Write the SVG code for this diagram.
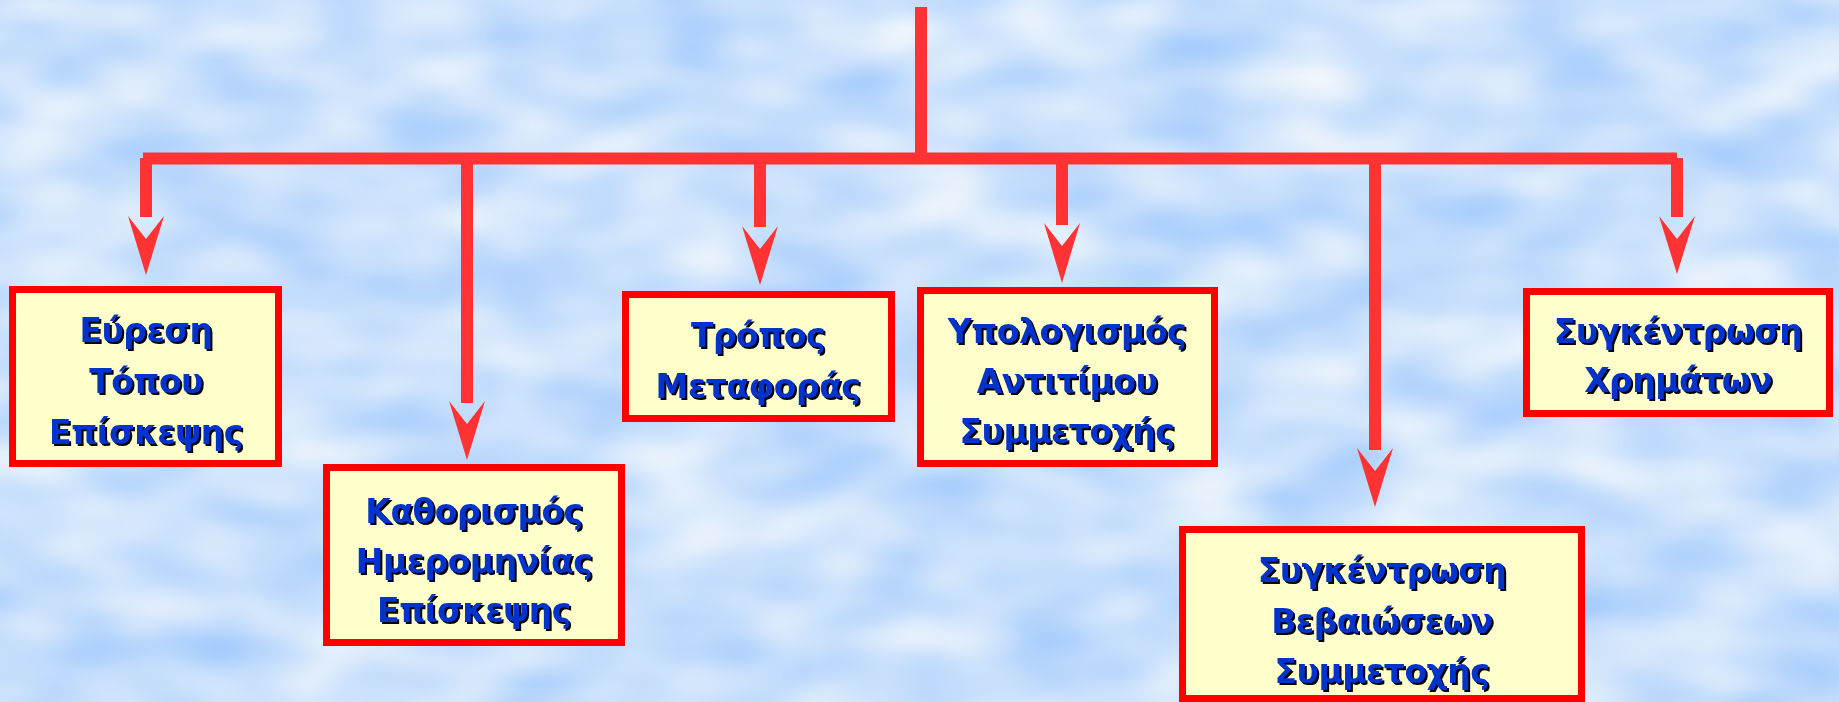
<svg xmlns="http://www.w3.org/2000/svg" width="1839" height="702" viewBox="0 0 1839 702">
<style>
.box{fill:#FFFFCC;stroke:#FF0000;stroke-width:7}
.lbl{font-family:"DejaVu Sans","Liberation Sans",sans-serif;font-weight:bold;font-size:33px;letter-spacing:-0.5px;fill:#0033CC;text-anchor:middle;filter:url(#sh)}
.ln{stroke:#FF3333;stroke-width:12;fill:none}
.ah{fill:#FF3333}
</style>
<defs>
<filter id="clouds" x="0" y="0" width="100%" height="100%" color-interpolation-filters="sRGB">
<feTurbulence type="fractalNoise" baseFrequency="0.008 0.016" numOctaves="2" seed="7" result="n"/>
<feColorMatrix in="n" type="matrix" values="0.42 0 0 0 0.58  0.24 0 0 0 0.76  0 0 0 0 0.99  0 0 0 0 1"/>
</filter>
<filter id="sh" x="-5%" y="-20%" width="110%" height="140%" color-interpolation-filters="sRGB">
<feDropShadow dx="2" dy="2" stdDeviation="0.5" flood-color="#000" flood-opacity="1"/>
</filter>
</defs>
<rect width="1839" height="702" fill="#C8E0FC"/>
<rect width="1839" height="702" filter="url(#clouds)"/>
<g id="connectors">
<line class="ln" x1="921" y1="7" x2="921" y2="158"/>
<line class="ln" x1="143" y1="158.5" x2="1677" y2="158.5" stroke-width="11"/>
<line class="ln" x1="146" y1="158" x2="146" y2="217"/>
<line class="ln" x1="467" y1="158" x2="467" y2="403"/>
<line class="ln" x1="760" y1="158" x2="760" y2="227"/>
<line class="ln" x1="1062" y1="158" x2="1062" y2="225"/>
<line class="ln" x1="1375" y1="158" x2="1375" y2="450"/>
<line class="ln" x1="1677" y1="158" x2="1677" y2="217"/>
<path class="ah" d="M128,216 L146,239 L164,216 L146,275 Z"/>
<path class="ah" d="M449,401 L467,424 L485,401 L467,460 Z"/>
<path class="ah" d="M742,226 L760,249 L778,226 L760,285 Z"/>
<path class="ah" d="M1044,223 L1062,246 L1080,223 L1062,283 Z"/>
<path class="ah" d="M1357,448 L1375,471 L1393,448 L1375,507 Z"/>
<path class="ah" d="M1659,216 L1677,239 L1695,216 L1677,274 Z"/>
</g>
<g id="node1">
<rect class="box" x="12.5" y="289.5" width="266" height="174"/>
<text class="lbl" x="146" y="342">Εύρεση</text>
<text class="lbl" x="146" y="393">Τόπου</text>
<text class="lbl" x="146" y="444">Επίσκεψης</text>
</g>
<g id="node2">
<rect class="box" x="326.5" y="467.5" width="295" height="175"/>
<text class="lbl" x="474" y="523">Καθορισμός</text>
<text class="lbl" x="474" y="573">Ημερομηνίας</text>
<text class="lbl" x="474" y="622">Επίσκεψης</text>
</g>
<g id="node3">
<rect class="box" x="625.5" y="294.5" width="266" height="124"/>
<text class="lbl" x="758" y="347">Τρόπος</text>
<text class="lbl" x="758" y="398">Μεταφοράς</text>
</g>
<g id="node4">
<rect class="box" x="920.5" y="290.5" width="294" height="173"/>
<text class="lbl" x="1067" y="343">Υπολογισμός</text>
<text class="lbl" x="1067" y="393">Αντιτίμου</text>
<text class="lbl" x="1067" y="443">Συμμετοχής</text>
</g>
<g id="node5">
<rect class="box" x="1526.5" y="291.5" width="303" height="122"/>
<text class="lbl" x="1678" y="343">Συγκέντρωση</text>
<text class="lbl" x="1678" y="392">Χρημάτων</text>
</g>
<g id="node6">
<rect class="box" x="1182.5" y="529.5" width="399" height="169"/>
<text class="lbl" x="1382" y="582">Συγκέντρωση</text>
<text class="lbl" x="1382" y="633">Βεβαιώσεων</text>
<text class="lbl" x="1382" y="683">Συμμετοχής</text>
</g>
</svg>
